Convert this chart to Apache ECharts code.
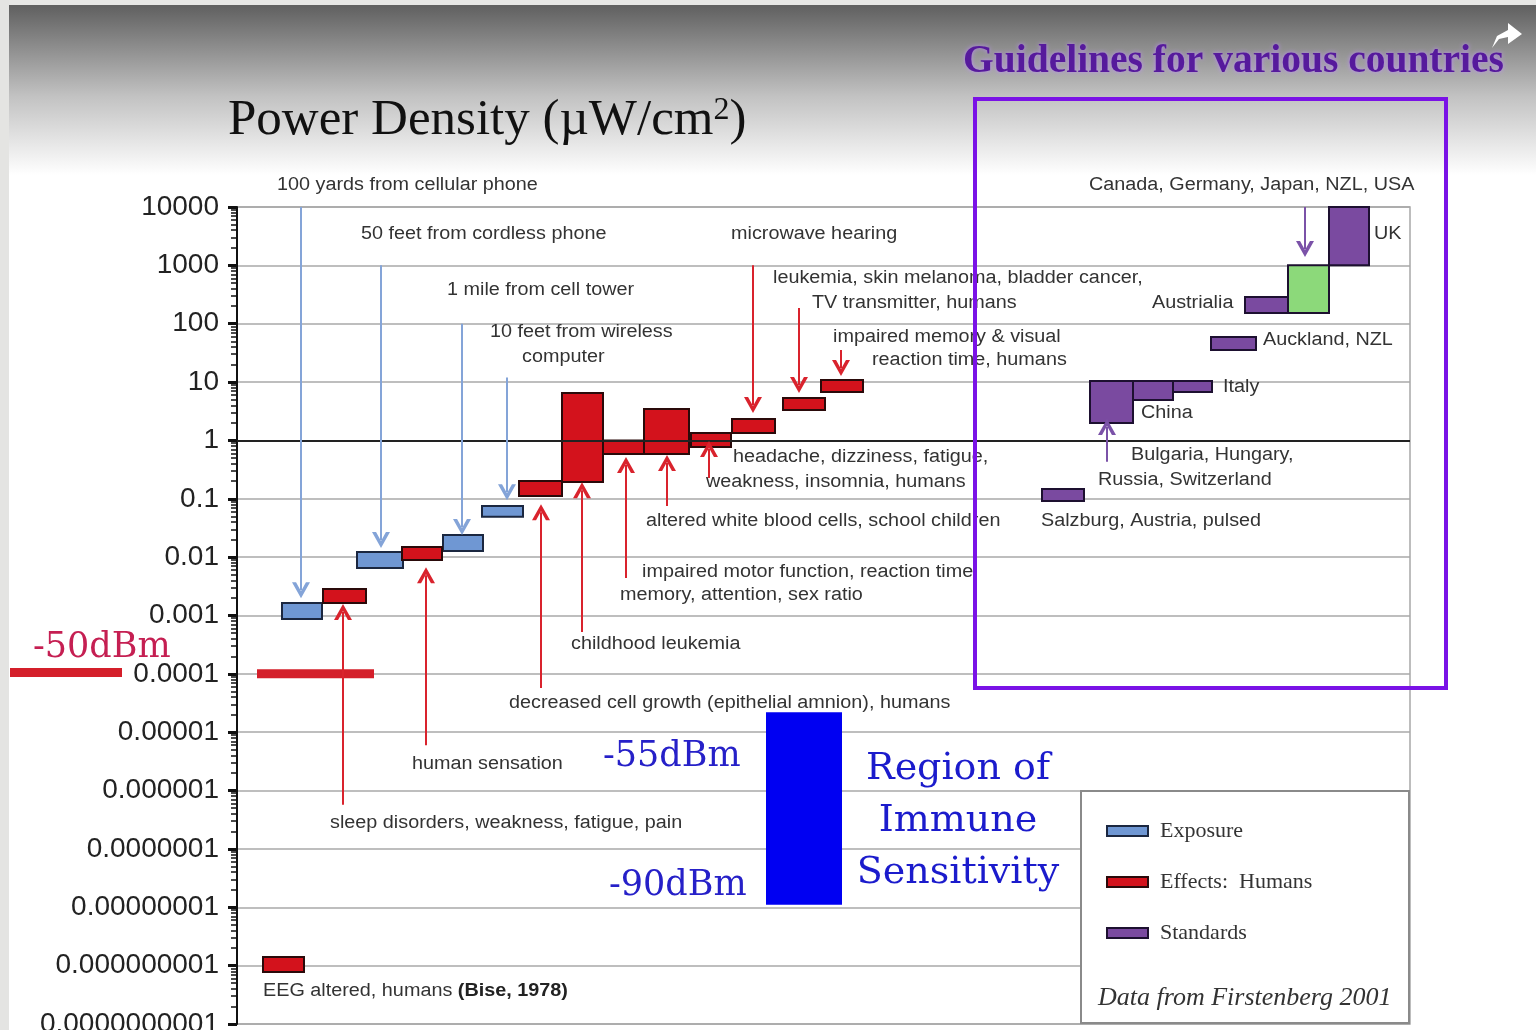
<!DOCTYPE html>
<html>
<head>
<meta charset="utf-8">
<title>Power Density</title>
<script src="https://cdn.jsdelivr.net/npm/echarts@6/dist/echarts.min.js"></script>
<style>
    html, body {margin: 0; padding: 0; background: #fff;}
    #main {width: 1536px; height: 1030px;}
</style>
</head>
<body>
<div id="main"></div>
<script>
// y轴刻度标签 (1e-10 .. 1e4)
var yTickLabels = ['0.0000000001', '0.000000001', '0.00000001', '0.0000001', '0.000001', '0.00001',
    '0.0001', '0.001', '0.01', '0.1', '1', '10', '100', '1000', '10000'];

// 每个方块: [起点, 终点, 下限, 上限]  (µW/cm2)
var exposureBars = [[45, 85, 0.00087, 0.00164], [120, 166, 0.0065, 0.0123], [206, 246, 0.0128, 0.024], [245, 286, 0.049, 0.075]];
var effectBars = [[86, 129, 0.00164, 0.00285], [165, 205, 0.0089, 0.0149], [282, 325, 0.112, 0.202], [325, 366, 0.194, 6.5],
    [366, 407, 0.586, 1.0], [407, 452, 0.586, 3.46], [454, 494, 0.773, 1.34], [495, 538, 1.34, 2.33],
    [546, 588, 3.33, 5.33], [584, 626, 6.76, 10.9], [26, 67, 7.8e-10, 1.41e-9]];
var standardBars = [[805, 847, 0.0916, 0.147], [853, 896, 1.99, 10.4], [896, 936, 4.93, 10.4], [936, 975, 6.76, 10.4],
    [974, 1019, 35.5, 59.2], [1008, 1051, 153, 287], [1092, 1132, 1000, 10000]];
var usaBars = [[1051, 1092, 153, 1000]];
var immuneBars = [[529, 605, 1.1e-8, 2.2e-5]];
var dbmLine = [[20, 1e-4], [137, 1e-4]];

// 箭头: [x, 起点, 终点]
var exposureArrows = [[64, 1e4, 0.0027], [144, 1000, 0.0197], [225, 100, 0.033], [270, 12, 0.13]];
var effectArrows = [[106, 5.7e-7, 0.00115], [189, 6e-6, 0.0049], [304, 5.7e-5, 0.059], [345, 5.2e-4, 0.14],
    [389, 0.0044, 0.38], [430, 0.075, 0.41], [472, 0.227, 0.71], [516, 1000, 4.05], [562, 186, 8.9], [604, 35.5, 17.4]];
var standardArrows = [[1068, 1e4, 1900], [870, 0.43, 1.7]];

// 注释文字 [x, y, 文字]
var notes = [
    [277, 185, '100 yards from cellular phone'],
    [361, 234, '50 feet from cordless phone'],
    [447, 290, '1 mile from cell tower'],
    [490, 332, '10 feet from wireless'],
    [522, 357, 'computer'],
    [731, 234, 'microwave hearing'],
    [773, 278, 'leukemia, skin melanoma, bladder cancer,'],
    [812, 303, 'TV transmitter, humans'],
    [833, 337, 'impaired memory & visual'],
    [872, 360, 'reaction time, humans'],
    [733, 457, 'headache, dizziness, fatigue,'],
    [706, 482, 'weakness, insomnia, humans'],
    [646, 521, 'altered white blood cells, school children'],
    [642, 572, 'impaired motor function, reaction time,'],
    [620, 595, 'memory, attention, sex ratio'],
    [571, 644, 'childhood leukemia'],
    [509, 703, 'decreased cell growth (epithelial amnion), humans'],
    [412, 764, 'human sensation'],
    [330, 823, 'sleep disorders, weakness, fatigue, pain'],
    [1089, 185, 'Canada, Germany, Japan, NZL, USA'],
    [1374, 234, 'UK'],
    [1152, 303, 'Austrialia'],
    [1263, 340, 'Auckland, NZL'],
    [1223, 387, 'Italy'],
    [1141, 413, 'China'],
    [1131, 455, 'Bulgaria, Hungary,'],
    [1098, 480, 'Russia, Switzerland'],
    [1041, 521, 'Salzburg, Austria, pulsed']
];

function boxRender(fill, stroke) {
    return function (params, api) {
        var p0 = api.coord([api.value(0), api.value(3)]);
        var p1 = api.coord([api.value(1), api.value(2)]);
        return {
            type: 'rect',
            shape: {x: p0[0], y: p0[1], width: p1[0] - p0[0], height: p1[1] - p0[1]},
            style: {fill: fill, stroke: stroke || null, lineWidth: stroke ? 2 : 0}
        };
    };
}

function arrowLines(list) {
    return list.map(function (a) {
        return [{coord: [a[0], a[1]]}, {coord: [a[0], a[2]]}];
    });
}

// 开口的V形箭头
var chevron = 'path://M0 16 L10 0 L20 16 L15.5 16 L10 7 L4.5 16 Z';

function arrowMark(color, list) {
    return {
        silent: true,
        symbol: ['none', chevron],
        symbolSize: [18, 16],
        label: {show: false},
        lineStyle: {color: color, width: 2, type: 'solid'},
        itemStyle: {color: color},
        data: arrowLines(list)
    };
}

var sans = 'Liberation Sans, Arial, sans-serif';
var slab = 'DejaVu Serif, serif';

var graphics = [
    // 顶部渐变背景
    {type: 'rect', z: 0, shape: {x: 0, y: 0, width: 1536, height: 175},
        style: {fill: new echarts.graphic.LinearGradient(0, 0, 0, 1, [
            {offset: 0, color: '#5a5a5a'}, {offset: 0.55, color: '#c2c2c2'}, {offset: 1, color: '#ffffff'}])}},
    {type: 'rect', z: 1, shape: {x: 0, y: 0, width: 1536, height: 5}, style: {fill: '#e6e6e4'}},
    {type: 'rect', z: 1, shape: {x: 0, y: 0, width: 9, height: 1030}, style: {fill: '#e4e4e2'}},
    // 分享图标
    {type: 'polygon', z: 5, shape: {points: [[1492, 48], [1497, 36], [1508, 30], [1508, 23], [1522, 34], [1508, 44], [1508, 37], [1499, 39]]},
        style: {fill: '#ffffff'}},
    {type: 'text', z: 10, x: 228, y: 121, style: {
        text: '{a|Power Density (µW/cm}{s|2}{a|)}', verticalAlign: 'middle',
        rich: {
            a: {font: '51px Liberation Serif, serif', fill: '#111'},
            s: {font: '32px Liberation Serif, serif', fill: '#111', verticalAlign: 'top', padding: [0, 0, 20, 0]}
        }}},
    {type: 'text', z: 10, x: 963, y: 62, style: {
        text: 'Guidelines for various countries', font: 'bold 39.5px Liberation Serif, serif', fill: '#561a9c',
        verticalAlign: 'middle', textShadowColor: 'rgba(190,140,255,0.9)', textShadowBlur: 4}},
    // 国家标准框
    {type: 'rect', z: 20, shape: {x: 975, y: 99, width: 471, height: 589},
        style: {fill: null, stroke: '#7a12e6', lineWidth: 4}},
    // -50dBm
    {type: 'rect', z: 10, shape: {x: 10, y: 668, width: 112, height: 9}, style: {fill: '#d41f2a'}},
    {type: 'text', z: 10, x: 33, y: 648, style: {text: '-50dBm', font: '35px ' + slab, fill: '#c51f52', verticalAlign: 'middle'}},
    {type: 'text', z: 10, x: 603, y: 757, style: {text: '-55dBm', font: '35px ' + slab, fill: '#2620c8', verticalAlign: 'middle'}},
    {type: 'text', z: 10, x: 609, y: 886, style: {text: '-90dBm', font: '35px ' + slab, fill: '#2620c8', verticalAlign: 'middle'}},
    {type: 'text', z: 10, x: 958, y: 769, style: {text: 'Region of', font: '38px ' + slab, fill: '#1b1bcc', align: 'center', verticalAlign: 'middle'}},
    {type: 'text', z: 10, x: 958, y: 821, style: {text: 'Immune', font: '38px ' + slab, fill: '#1b1bcc', align: 'center', verticalAlign: 'middle'}},
    {type: 'text', z: 10, x: 958, y: 873, style: {text: 'Sensitivity', font: '38px ' + slab, fill: '#1b1bcc', align: 'center', verticalAlign: 'middle'}},
    // EEG
    {type: 'text', z: 10, x: 263, y: 991, scaleX: 1.1, style: {
        text: '{a|EEG altered, humans }{b|(Bise, 1978)}', verticalAlign: 'middle',
        rich: {a: {font: '18px ' + sans, fill: '#333'}, b: {font: 'bold 18px ' + sans, fill: '#222'}}}},
    // 图例框
    {type: 'rect', z: 3, shape: {x: 1081, y: 791, width: 328, height: 232},
        style: {fill: '#ffffff', stroke: '#8a8a8a', lineWidth: 2}},
    {type: 'text', z: 10, x: 1098, y: 998, style: {
        text: 'Data from Firstenberg 2001', font: 'italic 26px Liberation Serif, serif', fill: '#333', verticalAlign: 'middle'}}
];

notes.forEach(function (n) {
    graphics.push({type: 'text', z: 10, x: n[0], y: n[1], scaleX: 1.1,
        style: {text: n[2], font: '18px ' + sans, fill: '#333', verticalAlign: 'middle'}});
});

var chart = echarts.init(document.getElementById('main'));
var option = {
    animation: false,
    grid: {left: 237, top: 207, width: 1173, height: 817, outerBoundsMode: 'none',
        show: true, borderColor: '#a8a8a8', borderWidth: 1.5},
    xAxis: {type: 'value', min: 0, max: 1173, show: false},
    yAxis: {
        type: 'log', logBase: 10, min: 1e-10, max: 1e4, interval: 1,
        axisLine: {show: true, lineStyle: {color: '#111', width: 2}},
        axisTick: {show: true, length: 9, lineStyle: {color: '#111', width: 3}},
        minorTick: {show: true, splitNumber: 9, length: 6, lineStyle: {color: '#111', width: 1.5}},
        splitLine: {show: true, lineStyle: {color: '#a8a8a8', width: 1.5}},
        axisLabel: {
            margin: 18, fontFamily: sans, fontSize: 28, color: '#222',
            formatter: function (v) {
                return yTickLabels[Math.round(Math.log10(v)) + 10];
            }
        }
    },
    legend: {
        orient: 'vertical', left: 1101, top: 815, itemWidth: 41, itemHeight: 10, itemGap: 29,
        selectedMode: false, z: 6,
        textStyle: {fontFamily: 'Liberation Serif, serif', fontSize: 22, color: '#333', padding: [0, 0, 0, 7]},
        data: [
            {name: 'Exposure', icon: 'rect'},
            {name: 'Effects:  Humans', icon: 'rect'},
            {name: 'Standards', icon: 'rect'}
        ]
    },
    graphic: graphics,
    series: [
        {
            name: 'Region', type: 'custom', z: 2, silent: true,
            renderItem: boxRender('#0000f2'), data: immuneBars, encode: {x: [0, 1], y: [2, 3]},
            markLine: {silent: true, symbol: 'none', label: {show: false},
                lineStyle: {color: '#222', width: 2, type: 'solid'}, data: [{yAxis: 1}]}
        },
        {
            name: '-50dBm', type: 'line', z: 3, silent: true, symbol: 'none',
            lineStyle: {color: '#d41f2a', width: 9}, data: dbmLine
        },
        {
            name: 'Exposure', type: 'custom', z: 3, silent: true,
            itemStyle: {color: '#6f97d3', borderColor: '#1b2740', borderWidth: 2},
            renderItem: boxRender('#6f97d3', '#1b2740'), data: exposureBars, encode: {x: [0, 1], y: [2, 3]},
            markLine: arrowMark('#84a4d8', exposureArrows)
        },
        {
            name: 'Effects:  Humans', type: 'custom', z: 3, silent: true,
            itemStyle: {color: '#d3121c', borderColor: '#2a0a0a', borderWidth: 2},
            renderItem: boxRender('#d3121c', '#2a0a0a'), data: effectBars, encode: {x: [0, 1], y: [2, 3]},
            markLine: arrowMark('#d9232d', effectArrows)
        },
        {
            name: 'Standards', type: 'custom', z: 3, silent: true,
            itemStyle: {color: '#7a4aa0', borderColor: '#1d1030', borderWidth: 2},
            renderItem: boxRender('#7a4aa0', '#1d1030'), data: standardBars, encode: {x: [0, 1], y: [2, 3]},
            markLine: arrowMark('#7b52a8', standardArrows)
        },
        {
            name: 'USA', type: 'custom', z: 3, silent: true,
            renderItem: boxRender('#8cd97a', '#1d1030'), data: usaBars, encode: {x: [0, 1], y: [2, 3]}
        }
    ]
};
chart.setOption(option);
window.onresize = chart.resize;
</script>
</body>
</html>
